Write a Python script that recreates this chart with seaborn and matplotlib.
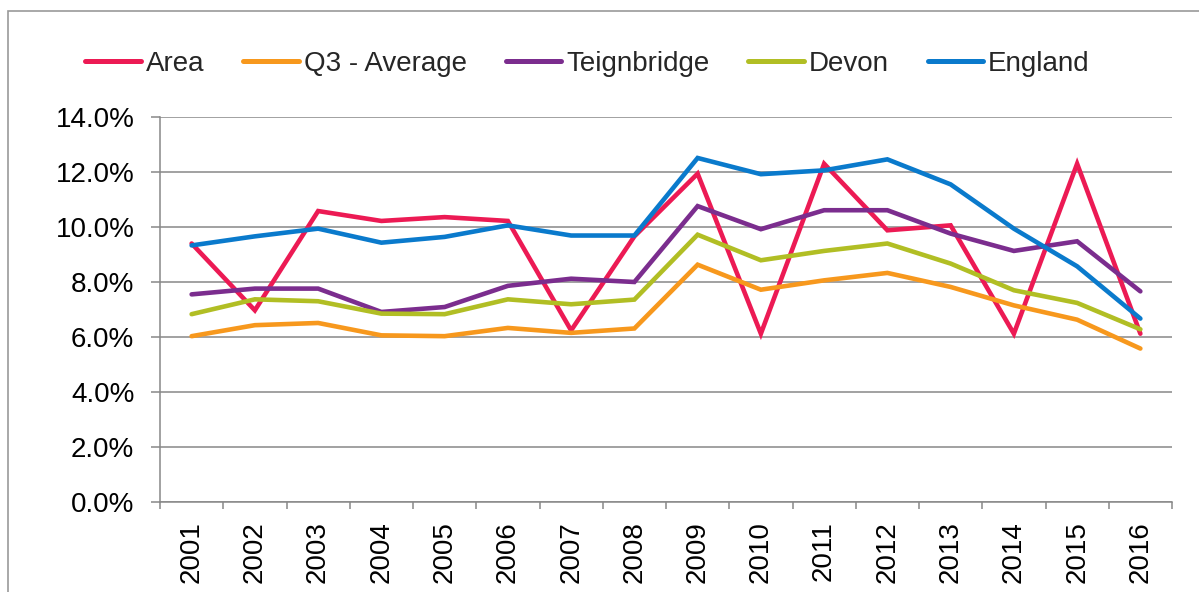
import matplotlib
matplotlib.use("Agg")
import matplotlib.pyplot as plt
from matplotlib.patches import Rectangle
from matplotlib.ticker import FuncFormatter, FixedLocator
import seaborn as sns
import pandas as pd

# values (percent)
years = [str(y) for y in range(2001, 2017)]
area = [9.40, 6.97, 10.58, 10.22, 10.36, 10.22, 6.24, 9.66,
        11.94, 6.12, 12.30, 9.88, 10.06, 6.12, 12.30, 6.12]
q3_average = [6.03, 6.43, 6.51, 6.06, 6.03, 6.33, 6.15, 6.31,
              8.63, 7.72, 8.06, 8.33, 7.82, 7.15, 6.63, 5.58]
teignbridge = [7.55, 7.76, 7.76, 6.91, 7.09, 7.86, 8.12, 8.00,
               10.76, 9.92, 10.61, 10.61, 9.76, 9.13, 9.48, 7.66]
devon = [6.83, 7.37, 7.30, 6.85, 6.83, 7.37, 7.19, 7.36,
         9.72, 8.79, 9.13, 9.40, 8.67, 7.70, 7.24, 6.28]
england = [9.33, 9.66, 9.94, 9.43, 9.64, 10.06, 9.69, 9.69,
           12.51, 11.92, 12.06, 12.46, 11.55, 9.94, 8.57, 6.67]

series = {'Area': area, 'Q3 - Average': q3_average, 'Teignbridge': teignbridge,
          'Devon': devon, 'England': england}
colors = ['#EC1A54', '#F7981D', '#7B2D8E', '#B1BE24', '#0A7ACC']

rows = []
for name, vals in series.items():
    for i, v in enumerate(vals):
        rows.append({'Year': i, 'Series': name, 'Value': v})
df = pd.DataFrame(rows)

sns.set_theme(style="white")
plt.rcParams['font.family'] = ['Liberation Sans', 'DejaVu Sans']

fig = plt.figure(figsize=(11.99, 5.92), dpi=100)
ax = fig.add_axes([160 / 1199, 1 - 502 / 592, (1172 - 160) / 1199, (502 - 117) / 592])

sns.lineplot(data=df, x='Year', y='Value', hue='Series', palette=colors,
             linewidth=3.3, ax=ax, legend=True)
for line in ax.get_lines():
    line.set_solid_joinstyle('miter')

ax.set_xlim(-0.5, len(years) - 0.5)
ax.set_ylim(0, 14)
ax.set_yticks(range(0, 15, 2))
ax.yaxis.set_major_formatter(FuncFormatter(lambda v, p: f"{v:.1f}%"))
ax.set_xticks(range(len(years)))
ax.set_xticklabels(years, rotation=90)
ax.xaxis.set_minor_locator(FixedLocator([i - 0.5 for i in range(len(years) + 1)]))

grid_c = '#888888'
ax.grid(axis='y', color=grid_c, linewidth=1.1)
ax.set_axisbelow(True)
for s in ['top', 'right']:
    ax.spines[s].set_visible(False)
for s in ['left', 'bottom']:
    ax.spines[s].set_color(grid_c)
    ax.spines[s].set_linewidth(1.1)

ax.tick_params(axis='y', which='major', left=True, length=6.5, width=1.1,
               color=grid_c, pad=12, labelsize=20, labelcolor='black')
ax.tick_params(axis='x', which='major', bottom=False, length=0, pad=14,
               labelsize=20, labelcolor='black')
ax.tick_params(axis='x', which='minor', bottom=True, length=5, width=1.1,
               color=grid_c)
ax.set_xlabel('')
ax.set_ylabel('')

handles, labels = ax.get_legend_handles_labels()
ax.get_legend().remove()
leg = fig.legend(handles, labels, loc='center', bbox_to_anchor=(0.49, 1 - 64 / 592),
                 ncol=5, frameon=False, fontsize=20, handlelength=2.0,
                 handletextpad=0.18, columnspacing=1.4)
for h in leg.get_lines():
    h.set_linewidth(3.6)

# outer chart border (left and top visible)
fig.patches.append(Rectangle((8 / 1199, -0.1), 1.2, 1.1 - 11 / 592,
                             transform=fig.transFigure, fill=False,
                             edgecolor='#999999', linewidth=1.2, clip_on=False))

fig.savefig('out.png', dpi=100)
